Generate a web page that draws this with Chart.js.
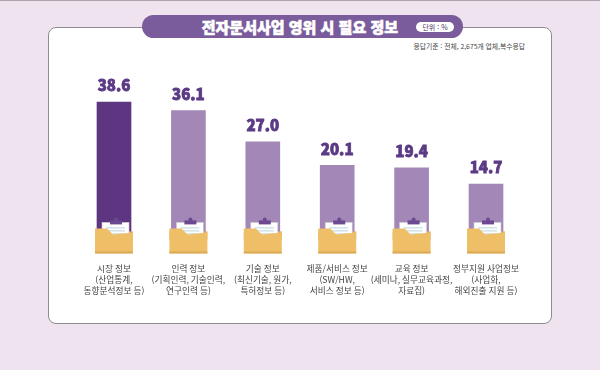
<!DOCTYPE html>
<html lang="ko">
<head>
<meta charset="utf-8">
<title>전자문서사업 영위 시 필요 정보</title>
<style>
html, body { margin: 0; padding: 0; }
body { width: 600px; height: 370px; background: #eee3ef; position: relative; overflow: hidden; font-family: "Noto Sans CJK KR", sans-serif; }
#topLine { position: absolute; left: 0; top: 0; width: 600px; height: 1px; background: #a9a5ab; }
#card { position: absolute; left: 48px; top: 27px; width: 502px; height: 295px; background: #fff; border: 1px solid #8f8b92; border-radius: 8px; }
#pill { position: absolute; left: 142px; top: 15px; width: 321px; height: 23px; background: #7a5c9c; border-radius: 12px; }
#title { position: absolute; left: 142px; top: 15px; width: 256px; height: 23px; line-height: 23px; text-align: right; color: #fff; font-size: 15px; font-weight: 900; -webkit-text-stroke: 0.6px #fff; white-space: nowrap; }
#unit { position: absolute; left: 416px; top: 22px; width: 38px; height: 10px; line-height: 10px; background: #fff; border-radius: 5px; text-align: center; font-size: 7px; color: #4b3a63; white-space: nowrap; }
#note { position: absolute; right: 75px; top: 40px; font-size: 6.8px; line-height: 12px; color: #444; white-space: nowrap; }
#chartWrap { position: absolute; left: 0; top: 0; width: 600px; height: 370px; }
</style>
</head>
<body>
<div id="topLine"></div>
<div id="card"></div>
<div id="pill"></div>
<div id="title">전자문서사업 영위 시 필요 정보</div>
<div id="unit">단위 : %</div>
<div id="note">응답기준 : 전체, 2,675개 업체,복수응답</div>
<div id="chartWrap"><canvas id="chart"></canvas></div>
<script src="https://cdn.jsdelivr.net/npm/chart.js@4/dist/chart.umd.min.js"></script>
<script>
var categories = [
    ['시장 정보', '(산업통계,', '동향분석정보 등)'],
    ['인력 정보', '(기획인력, 기술인력,', '연구인력 등)'],
    ['기술 정보', '(최신기술, 원가,', '특허정보 등)'],
    ['제품/서비스 정보', '(SW/HW,', '서비스 정보 등)'],
    ['교육 정보', '(세미나, 실무교육과정,', '자료집)'],
    ['정부지원 사업정보', '(사업화,', '해외진출 지원 등)']
];
var values = [38.6, 36.1, 27.0, 20.1, 19.4, 14.7];
var barColors = ['#5e3581', '#a387b6', '#a387b6', '#a387b6', '#a387b6', '#a387b6'];

// folder + clipboard sits over the foot of each bar
function drawFolder(ctx, cx, yBase) {
    var top = yBase - 6;
    var bottom = yBase + 19;
    var l = cx - 19, r = cx + 19;

    ctx.fillStyle = '#e3b05c';
    ctx.fillRect(l, top + 3, r - l, 8);

    // clipboard
    ctx.fillStyle = '#ffffff';
    ctx.fillRect(cx - 12, top - 6, 27, 17);
    ctx.strokeStyle = '#c9c6cf';
    ctx.lineWidth = 0.6;
    ctx.strokeRect(cx - 12, top - 6, 27, 17);
    ctx.fillStyle = '#6b4a92';
    ctx.fillRect(cx - 4, top - 8, 12, 4);
    ctx.beginPath();
    ctx.arc(cx + 2, top - 9, 2, 0, Math.PI * 2);
    ctx.fill();
    ctx.strokeStyle = '#b9d3e0';
    ctx.lineWidth = 1;
    [top - 1, top + 2, top + 5].forEach(function (y) {
        ctx.beginPath();
        ctx.moveTo(cx - 8, y + 0.5);
        ctx.lineTo(cx + 11, y + 0.5);
        ctx.stroke();
    });

    // front of the folder
    ctx.fillStyle = '#efbf68';
    ctx.beginPath();
    ctx.moveTo(l, top);
    ctx.lineTo(cx - 7, top);
    ctx.lineTo(cx - 1, top + 6);
    ctx.lineTo(r, top + 4);
    ctx.lineTo(r, bottom);
    ctx.lineTo(l, bottom);
    ctx.closePath();
    ctx.fill();
    ctx.fillStyle = '#dcab57';
    ctx.fillRect(l, bottom - 2, r - l, 2);
}

var folderPlugin = {
    id: 'folders',
    afterDatasetsDraw: function (chart) {
        var ctx = chart.ctx;
        var meta = chart.getDatasetMeta(0);
        var yBase = chart.scales.y.getPixelForValue(0);
        ctx.save();
        meta.data.forEach(function (bar, i) {
            drawFolder(ctx, bar.x, yBase);
            ctx.font = '900 15px "Noto Sans CJK KR"';
            ctx.textAlign = 'center';
            ctx.textBaseline = 'bottom';
            ctx.fillStyle = '#5b3a85';
            ctx.strokeStyle = '#5b3a85';
            ctx.lineWidth = 0.8;
            var label = values[i].toFixed(1);
            ctx.fillText(label, bar.x, bar.y - 9);
            ctx.strokeText(label, bar.x, bar.y - 9);
        });
        ctx.restore();
    }
};

new Chart(document.getElementById('chart'), {
    type: 'bar',
    data: {
        labels: categories,
        datasets: [{
            data: values,
            backgroundColor: barColors,
            barThickness: 34
        }]
    },
    options: {
        responsive: true,
        maintainAspectRatio: false,
        animation: false,
        layout: { padding: { left: 76.8, right: 76.8, top: 80, bottom: 0 } },
        plugins: { legend: { display: false }, tooltip: { enabled: false } },
        scales: {
            x: {
                grid: { display: false },
                border: { display: false },
                afterFit: function (scale) { scale.height = 135.6; },
                ticks: {
                    padding: 21,
                    maxRotation: 0,
                    autoSkip: false,
                    color: '#444',
                    font: { family: '"Noto Sans CJK KR"', size: 8.7, lineHeight: 1.27 }
                }
            },
            y: {
                display: false,
                min: 0,
                max: 45,
                afterFit: function (scale) { scale.width = 0; }
            }
        }
    },
    plugins: [folderPlugin]
});
</script>
</body>
</html>
